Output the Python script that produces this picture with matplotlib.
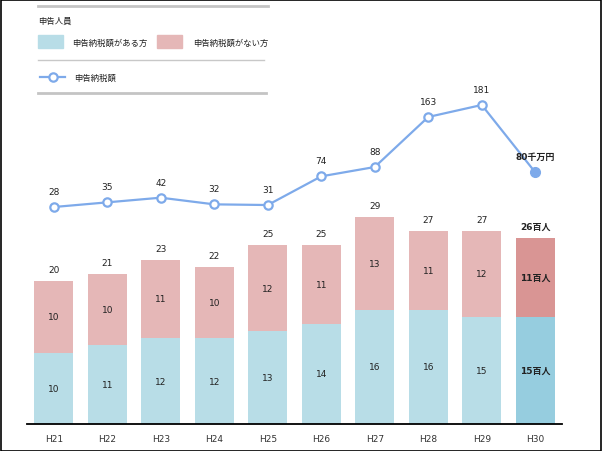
import matplotlib
matplotlib.use("Agg")
import matplotlib.pyplot as plt
from matplotlib.patches import Rectangle
from matplotlib.lines import Line2D

plt.rcParams['font.family'] = ['DejaVu Sans', 'Noto Sans CJK JP']

# data
years = ['H21', 'H22', 'H23', 'H24', 'H25', 'H26', 'H27', 'H28', 'H29', 'H30']
with_tax = [10, 11, 12, 12, 13, 14, 16, 16, 15, 15]      # 申告納税額がある方 (百人)
without_tax = [10, 10, 11, 10, 12, 11, 13, 11, 12, 11]   # 申告納税額がない方 (百人)
totals = [20, 21, 23, 22, 25, 25, 29, 27, 27, 26]
tax_amount = [28, 35, 42, 32, 31, 74, 88, 163, 181, 80]  # 申告納税額 (千万円)

blue = '#b8dde7'
pink = '#e5b7b7'
blue_last = '#96cddf'
pink_last = '#d99594'
line_col = '#7eaaea'
txt = '#222222'

W, H = 602, 452
fig = plt.figure(figsize=(W / 100, H / 100), dpi=100)

# axes: x 27..562, y bottom 425 (from top), top 30
ax = fig.add_axes([27 / W, 1 - 425 / H, 535 / W, 395 / H])
ax2 = ax.twinx()
ax.set_zorder(ax2.get_zorder() + 1)
ax.patch.set_visible(False)

x = list(range(len(years)))
cb = [blue] * 9 + [blue_last]
cp = [pink] * 9 + [pink_last]
ax.bar(x, with_tax, width=0.73, color=cb, zorder=2)
ax.bar(x, without_tax, width=0.73, bottom=with_tax, color=cp, zorder=2)

ax.set_xlim(-0.5, 9.5)
ax.set_ylim(0, 395 / 7.15)

for i in x:
    last = i == len(x) - 1
    fw = 'bold' if last else 'normal'
    suf = '百人' if last else ''
    ax.text(i, with_tax[i] / 2, f'{with_tax[i]}{suf}', ha='center', va='center',
            fontsize=6.5, color=txt, fontweight=fw)
    ax.text(i, with_tax[i] + without_tax[i] / 2, f'{without_tax[i]}{suf}', ha='center',
            va='center', fontsize=6.5, color=txt, fontweight=fw)
    ax.annotate(f'{totals[i]}{suf}', (i, totals[i]), xytext=(0, 5), textcoords='offset points',
                ha='center', va='bottom', fontsize=6.5, color=txt, fontweight=fw)

# line on its own scale
ax2.plot(x, tax_amount, color=line_col, lw=1.6, zorder=3)
ax2.plot(x[:-1], tax_amount[:-1], 'o', ms=6, mfc='white', mec=line_col, mew=1.6, zorder=4)
ax2.plot(x[-1:], tax_amount[-1:], 'o', ms=7, mfc=line_col, mec=line_col, zorder=4)
ax2.set_ylim(-297.3, 294.9)
for i in x:
    last = i == len(x) - 1
    ax2.annotate(f'{tax_amount[i]}千万円' if last else f'{tax_amount[i]}', (i, tax_amount[i]),
                 xytext=(0, 8), textcoords='offset points', ha='center', va='bottom',
                 fontsize=6.5, color=txt, fontweight='bold' if last else 'normal')

for a in (ax, ax2):
    for s in ('top', 'right', 'left'):
        a.spines[s].set_visible(False)
    a.set_yticks([])
ax2.spines['bottom'].set_visible(False)
ax.spines['bottom'].set_linewidth(1.3)
ax.spines['bottom'].set_color('black')
ax.set_xticks(x)
ax.set_xticklabels(years, fontsize=6.5, color='#333333')
ax.tick_params(axis='x', length=0, pad=7)

# legend box drawn in figure pixels
def fx(px):
    return px / W

def fy(py):
    return 1 - py / H

fig.add_artist(Line2D([fx(38), fx(268)], [fy(7), fy(7)], color='#c4c4c4', lw=2))
fig.text(fx(38), fy(21), '申告人員', fontsize=6, va='center', color=txt)
fig.add_artist(Rectangle((fx(38), fy(49)), fx(25), 13 / H, color=blue, transform=fig.transFigure))
fig.text(fx(72), fy(43), '申告納税額がある方', fontsize=6, va='center', color=txt)
fig.add_artist(Rectangle((fx(157), fy(49)), fx(25), 13 / H, color=pink, transform=fig.transFigure))
fig.text(fx(193), fy(43), '申告納税額がない方', fontsize=6, va='center', color=txt)
fig.add_artist(Line2D([fx(38), fx(264)], [fy(61), fy(61)], color='#c8c8c8', lw=1))
fig.add_artist(Line2D([fx(40), fx(65)], [fy(78), fy(78)], color=line_col, lw=1.6))
fig.add_artist(Line2D([fx(52.5)], [fy(78)], marker='o', ms=6, mfc='white', mec=line_col, mew=1.6))
fig.text(fx(74), fy(78), '申告納税額', fontsize=6, va='center', color=txt)
fig.add_artist(Line2D([fx(38), fx(266)], [fy(94), fy(94)], color='#c4c4c4', lw=2))

# outer frame
fig.add_artist(Rectangle((0.5 / W, 0.5 / H), 1 - 1.5 / W, 1 - 1.5 / H, fill=False,
                         edgecolor='black', lw=1.2, transform=fig.transFigure))

fig.savefig('out.png', dpi=100)
